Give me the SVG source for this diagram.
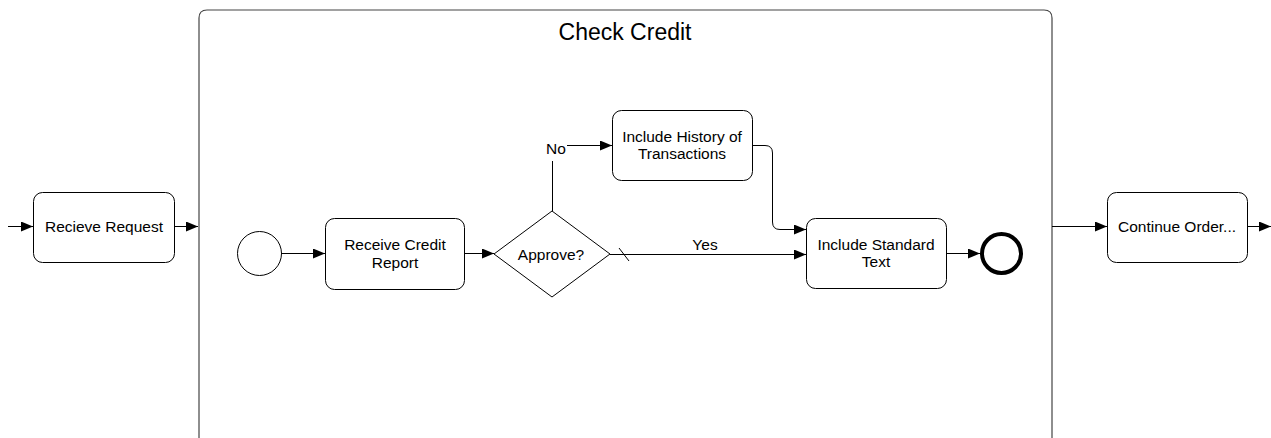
<svg xmlns="http://www.w3.org/2000/svg" width="1271" height="438" viewBox="0 0 1271 438">
<style>
.task{fill:#fff;stroke:#000;stroke-width:1}
.lbl{font-family:"Liberation Sans",Arial,sans-serif;font-size:15.5px;fill:#000;text-anchor:middle}
.flow{fill:none;stroke:#000;stroke-width:1}
</style>
<defs>
<marker id="arr" viewBox="0 0 12 10" refX="12" refY="5" markerWidth="12" markerHeight="10" markerUnits="userSpaceOnUse" orient="auto">
<path d="M0,0 L12,5 L0,10 Z" fill="#000"/>
</marker>
</defs>
<rect width="1271" height="438" fill="#fff"/>
<g id="subprocess">
<path d="M199,438 L199,18 Q199,10 207,10 L1044,10 Q1052,10 1052,18 L1052,438" fill="#fff" stroke="#444" stroke-width="1.2"/>
<text x="625" y="40" style="font-family:'Liberation Sans',Arial,sans-serif;font-size:23px;text-anchor:middle">Check Credit</text>
</g>
<g id="recieve-request">
<rect class="task" x="33.5" y="192.5" width="141" height="70" rx="9"/>
<text class="lbl" x="104" y="232">Recieve Request</text>
</g>
<g id="start">
<circle cx="259.5" cy="253.5" r="22" fill="#fff" stroke="#000"/>
</g>
<g id="receive-credit">
<rect class="task" x="325.5" y="218.5" width="139" height="71" rx="9"/>
<text class="lbl" x="395" y="250">Receive Credit</text>
<text class="lbl" x="395" y="267.5">Report</text>
</g>
<g id="approve">
<path d="M552,211 L610,254 L552,297 L494,254 Z" fill="#fff" stroke="#000"/>
<text class="lbl" x="551" y="259.5">Approve?</text>
</g>
<g id="history">
<rect class="task" x="612.5" y="110.5" width="140" height="70" rx="9"/>
<text class="lbl" x="682" y="141.5">Include History of</text>
<text class="lbl" x="682" y="159">Transactions</text>
</g>
<g id="standard">
<rect class="task" x="806.5" y="218.5" width="140" height="70" rx="9"/>
<text class="lbl" x="876" y="249.5">Include Standard</text>
<text class="lbl" x="876" y="267">Text</text>
</g>
<g id="end">
<circle cx="1001.5" cy="253.5" r="19.5" fill="#fff" stroke="#000" stroke-width="4"/>
</g>
<g id="continue-order">
<rect class="task" x="1107.5" y="192.5" width="140" height="70" rx="9"/>
<text class="lbl" x="1177" y="232">Continue Order...</text>
</g>
<g id="connectors">
<path class="flow" d="M8,226.5 L33,226.5" marker-end="url(#arr)"/>
<path class="flow" d="M174,226.5 L198,226.5" marker-end="url(#arr)"/>
<path class="flow" d="M281,253.5 L325,253.5" marker-end="url(#arr)"/>
<path class="flow" d="M464,253.5 L494,253.5" marker-end="url(#arr)"/>
<path class="flow" d="M552.5,211 L552.5,161"/>
<text class="lbl" x="556" y="154">No</text>
<path class="flow" d="M567,145.5 L612,145.5" marker-end="url(#arr)"/>
<path class="flow" d="M752,145.5 L765,145.5 Q772.5,145.5 772.5,153 L772.5,222 Q772.5,229.5 780,229.5 L806,229.5" marker-end="url(#arr)"/>
<path class="flow" d="M610,254.5 L806,254.5" marker-end="url(#arr)"/>
<path class="flow" d="M619,248 L629,261"/>
<text class="lbl" x="705" y="250">Yes</text>
<path class="flow" d="M946,253.5 L980,253.5" marker-end="url(#arr)"/>
<path class="flow" d="M1052,226.5 L1107,226.5" marker-end="url(#arr)"/>
<path class="flow" d="M1247,226.5 L1271,226.5" marker-end="url(#arr)"/>
</g>
</svg>
